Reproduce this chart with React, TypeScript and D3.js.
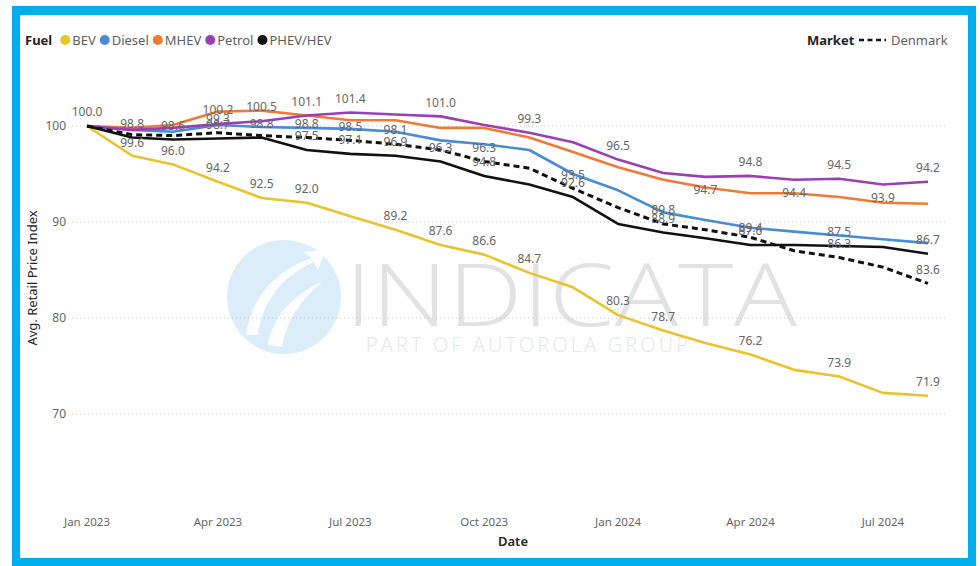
import React from 'react'
import * as d3 from 'd3'

// monthly index, Jan 2023 = 100
const MONTHS = [
  '2023-01', '2023-02', '2023-03', '2023-04', '2023-05', '2023-06', '2023-07',
  '2023-08', '2023-09', '2023-10', '2023-11', '2023-12', '2024-01', '2024-02',
  '2024-03', '2024-04', '2024-05', '2024-06', '2024-07', '2024-08',
]
const BEV = [100.0, 96.9, 96.0, 94.2, 92.5, 92.0, 90.6, 89.2, 87.6, 86.6, 84.7, 83.2, 80.3, 78.7, 77.4, 76.2, 74.6, 73.9, 72.2, 71.9]
const DIESEL = [100.0, 99.6, 99.4, 100.1, 99.9, 99.8, 99.7, 99.4, 98.5, 98.1, 97.5, 95.0, 93.3, 91.0, 90.2, 89.4, 89.0, 88.6, 88.2, 87.8]
const MHEV = [100.0, 99.8, 100.1, 101.5, 101.6, 101.1, 100.6, 100.6, 99.8, 99.8, 98.8, 97.3, 95.7, 94.4, 93.6, 93.0, 93.0, 92.6, 92.0, 91.9]
const PETROL = [100.0, 99.6, 99.8, 100.2, 100.5, 101.1, 101.4, 101.2, 101.0, 100.1, 99.3, 98.3, 96.5, 95.1, 94.7, 94.8, 94.4, 94.5, 93.9, 94.2]
const PHEV = [100.0, 98.8, 98.6, 98.7, 98.8, 97.5, 97.1, 96.9, 96.3, 94.8, 93.9, 92.6, 89.8, 88.9, 88.3, 87.6, 87.6, 87.5, 87.4, 86.7]
const DENMARK = [100.0, 99.1, 99.0, 99.3, 99.0, 98.8, 98.5, 98.1, 97.5, 96.3, 95.6, 93.5, 91.5, 89.8, 89.2, 88.4, 87.0, 86.3, 85.3, 83.6]

const FUELS = ['BEV', 'Diesel', 'MHEV', 'Petrol', 'PHEV/HEV']
const FUEL_COLORS = ['#E8C32E', '#4A8BD4', '#EE7A38', '#9A3FB4', '#111111']
const Y_TICKS = [70, 80, 90, 100]
const X_TICKS = ['2023-01', '2023-04', '2023-07', '2023-10', '2024-01', '2024-04', '2024-07']

// which points carry a data label (month index lists)
const LABELS_ABOVE = {
  BEV: [2, 3, 4, 5, 7, 8, 9, 10, 12, 13, 15, 17, 19],
  Petrol: [0, 3, 4, 5, 6, 8, 10, 12, 15, 17, 19],
  'PHEV/HEV': [1, 2, 3, 4, 5, 6, 7, 8, 9, 11, 13, 15, 17, 19],
  Denmark: [3, 5, 6, 7, 9, 11, 13, 17, 19],
}
const LABELS_BELOW = { Petrol: [1, 14, 16, 18] }
const LABELS_CENTER = { Diesel: [15] }

const FONT = "'Segoe UI', 'Noto Sans', sans-serif"

let ctx: CanvasRenderingContext2D | null = null
function textWidth(s: string, font: string) {
  if (!ctx) ctx = document.createElement('canvas').getContext('2d')
  if (!ctx) return s.length * 7
  ctx.font = font
  return ctx.measureText(s).width
}

export default function App() {
  const width = 980
  const height = 566
  const parse = d3.timeParse('%Y-%m')
  const dates = MONTHS.map((m) => parse(m)!)

  const x = d3.scaleTime().domain([dates[0], dates[dates.length - 1]]).range([87, 928])
  const y = d3.scaleLinear().domain([70, 100]).range([414, 126])

  const series = [
    { name: 'BEV', values: BEV, color: FUEL_COLORS[0], dash: null },
    { name: 'Diesel', values: DIESEL, color: FUEL_COLORS[1], dash: null },
    { name: 'MHEV', values: MHEV, color: FUEL_COLORS[2], dash: null },
    { name: 'Petrol', values: PETROL, color: FUEL_COLORS[3], dash: null },
    { name: 'PHEV/HEV', values: PHEV, color: FUEL_COLORS[4], dash: null },
    { name: 'Denmark', values: DENMARK, color: '#111111', dash: '6,4' },
  ]

  const line = d3
    .line<number>()
    .x((d, i) => x(dates[i]))
    .y((d) => y(d))

  const labels: { x: number; y: number; text: string }[] = []
  const addLabels = (table: Record<string, number[]>, offset: number) => {
    for (const [name, idx] of Object.entries(table)) {
      const s = series.find((s) => s.name === name)!
      idx.forEach((i) => {
        labels.push({ x: x(dates[i]), y: y(s.values[i]) + offset, text: d3.format('.1f')(s.values[i]) })
      })
    }
  }
  addLabels(LABELS_ABOVE, -14)
  addLabels(LABELS_BELOW, 13)
  addLabels(LABELS_CENTER, 0)

  // legend layout, measured so the items sit like the reference
  const legendFont = `13px ${FONT}`
  let lx = 25 + textWidth('Fuel', `bold ${legendFont}`) + 13
  const legendItems: { cx: number; tx: number; name: string; color: string }[] = []
  FUELS.forEach((f, i) => {
    legendItems.push({ cx: lx, tx: lx + 7, name: f, color: FUEL_COLORS[i] })
    lx += 7 + textWidth(f, legendFont) + 9
  })

  return (
    <div style={{ position: 'absolute', left: 0, top: 0 }}>
      <svg width={width} height={height} style={{ display: 'block', fontFamily: FONT }}>
        <rect x={0} y={0} width={width} height={height} fill="#fff" />
        <rect x={12} y={6} width={964} height={560} fill="#00AEEF" />
        <rect x={20} y={15} width={948} height={543} fill="#fff" />

        {/* watermark */}
        <g>
          <circle cx={284} cy={297} r={57} fill="#DBEDF8" />
          <path d="M246,335 C250,300 275,270 312,258 L303,252 L326,250 L318,270 L314,262 C282,276 262,302 258,335 Z" fill="#fff" opacity={0.9} />
          <path d="M268,345 C272,318 292,295 322,282 C300,300 286,322 282,347 Z" fill="#fff" opacity={0.9} />
          <text x={345} y={326} fontSize={86} fontWeight={300} fill="#E2E2E2" textLength={452} lengthAdjust="spacingAndGlyphs" fontFamily="'Open Sans', sans-serif">INDICATA</text>
          <text x={366} y={352} fontSize={20} fontWeight={300} fill="#E5E5E5" textLength={322} lengthAdjust="spacing" fontFamily="'Open Sans', sans-serif">PART OF AUTOROLA GROUP</text>
        </g>

        {/* grid + y axis */}
        {Y_TICKS.map((t) => (
          <g key={t}>
            <line x1={72} x2={946} y1={y(t)} y2={y(t)} stroke="#C8C8C8" strokeDasharray="1,3" />
            <text x={66} y={y(t)} dy="0.35em" textAnchor="end" fontSize={12} fill="#666">{t}</text>
          </g>
        ))}
        <text transform={`translate(37,${(y(100) + y(70)) / 2 + 8}) rotate(-90)`} textAnchor="middle" fontSize={13} fill="#252423">
          Avg. Retail Price Index
        </text>

        {/* x axis */}
        {X_TICKS.map((t) => {
          const d = parse(t)!
          return (
            <text key={t} x={x(d)} y={522} dy="0.35em" textAnchor="middle" fontSize={11.5} fill="#666">
              {d3.timeFormat('%b %Y')(d)}
            </text>
          )
        })}
        <text x={513} y={541} dy="0.35em" textAnchor="middle" fontSize={13} fontWeight={600} fill="#252423">Date</text>

        {/* lines */}
        {series.map((s) => (
          <path
            key={s.name}
            d={line(s.values)!}
            fill="none"
            stroke={s.color}
            strokeWidth={s.dash ? 3 : 2.6}
            strokeDasharray={s.dash || undefined}
            strokeLinejoin="round"
          />
        ))}

        {/* data labels */}
        {labels.map((l, i) => (
          <text key={i} x={l.x} y={l.y} dy="0.35em" textAnchor="middle" fontSize={12} fill="#666">
            {l.text}
          </text>
        ))}

        {/* legend */}
        <text x={25} y={40} dy="0.35em" fontSize={13} fontWeight={700} fill="#252423">Fuel</text>
        {legendItems.map((it) => (
          <g key={it.name}>
            <circle cx={it.cx} cy={40} r={5} fill={it.color} />
            <text x={it.tx} y={40} dy="0.35em" fontSize={13} fill="#605E5C">{it.name}</text>
          </g>
        ))}
        <text x={807} y={40} dy="0.35em" fontSize={13} fontWeight={700} fill="#252423">Market</text>
        <line x1={859} x2={886} y1={40} y2={40} stroke="#111" strokeWidth={2.5} strokeDasharray="5,3.5" />
        <text x={891} y={40} dy="0.35em" fontSize={13} fill="#605E5C">Denmark</text>
      </svg>
    </div>
  )
}
